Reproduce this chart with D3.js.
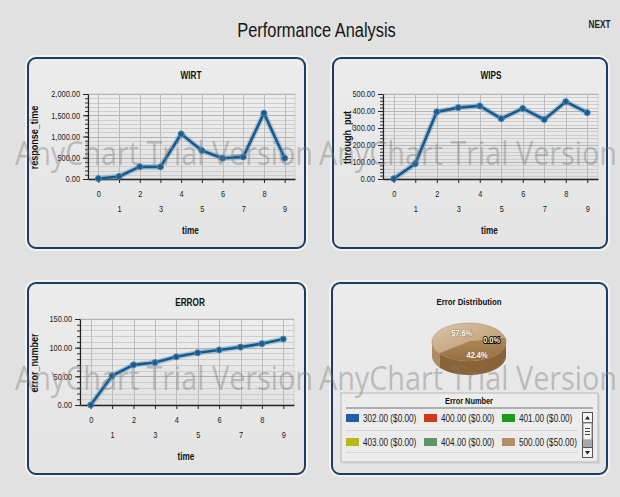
<!DOCTYPE html>
<html>
<head>
<meta charset="utf-8">
<script src="https://cdn.jsdelivr.net/npm/d3@7"></script>
<style>
html,body{margin:0;padding:0;background:#e1e1e1;}
svg{display:block;}
</style>
</head>
<body>
<svg id="chart" width="620" height="497"></svg>
<script>
// ---------------- DATA ----------------
const pageTitle = "Performance Analysis";
const navLabel = "NEXT";
const timeLabels = ["0","1","2","3","4","5","6","7","8","9"];
const wirtValues = [10, 60, 290, 285, 1060, 670, 490, 520, 1550, 490];
const wipsValues = [2, 90, 395, 420, 430, 355, 415, 350, 455, 390];
const errorValues = [0, 51, 70, 74, 84, 91, 96, 101, 107, 115];
const wirtTicks = [0, 500, 1000, 1500, 2000];
const wipsTicks = [0, 100, 200, 300, 400, 500];
const errorTicks = [0, 50, 100, 150];
const pieTitle = "Error Distribution";
const pieShareLabels = ["57.6%", "0.0%", "42.4%"];
const pieShares = [57.6, 0.0, 42.4];
const legendTitle = "Error Number";
const errorCodes = ["302.00", "400.00", "401.00", "403.00", "404.00", "500.00"];
const errorAmounts = ["$0.00", "$0.00", "$0.00", "$0.00", "$0.00", "$50.00"];
const errorColors = ["#1f5fa6", "#d0391a", "#1c9a1c", "#b8b81a", "#5e9564", "#b38e67"];
const watermark = "AnyChart Trial Version";

// ---------------- SETUP ----------------
const svg = d3.select("#chart");
const NARROW = "'Liberation Sans',Arial,sans-serif";
const defs = svg.append("defs");

svg.append("rect").attr("width", 620).attr("height", 497).attr("fill", "#e1e1e1");

const pg = defs.append("linearGradient").attr("id", "panelGrad").attr("x1", 0).attr("y1", 0).attr("x2", 0).attr("y2", 1);
pg.append("stop").attr("offset", "0%").attr("stop-color", "#ececec");
pg.append("stop").attr("offset", "100%").attr("stop-color", "#e4e4e4");

const plg = defs.append("linearGradient").attr("id", "plotGrad").attr("x1", 0).attr("y1", 0).attr("x2", 0).attr("y2", 1);
plg.append("stop").attr("offset", "0%").attr("stop-color", "#eeeeee");
plg.append("stop").attr("offset", "100%").attr("stop-color", "#e2e2e2");

// title
svg.append("text").attr("x", 316.5).attr("y", 37).attr("text-anchor", "middle")
  .attr("font-family", NARROW).attr("font-size", 20).attr("fill", "#151515")
  .attr("class", "narrow").text(pageTitle);
svg.append("text").attr("x", 599.5).attr("y", 28).attr("text-anchor", "middle")
  .attr("font-family", NARROW).attr("font-size", 10).attr("font-weight", "bold").attr("fill", "#222")
  .attr("class", "narrow").text(navLabel);

// panels
const panels = [
  {x: 28, y: 58, w: 277, h: 190},
  {x: 333, y: 58, w: 274, h: 190},
  {x: 28, y: 283, w: 277, h: 191},
  {x: 332, y: 283, w: 275, h: 191}
];
svg.selectAll("rect.panelShadow").data(panels).enter().append("rect")
  .attr("x", d => d.x - 2).attr("y", d => d.y - 2).attr("width", d => d.w + 4).attr("height", d => d.h + 4)
  .attr("rx", 10).attr("fill", "none").attr("stroke", "#f2f2f2").attr("stroke-width", 2);
svg.selectAll("rect.panel").data(panels).enter().append("rect")
  .attr("x", d => d.x).attr("y", d => d.y).attr("width", d => d.w).attr("height", d => d.h)
  .attr("rx", 8).attr("fill", "url(#panelGrad)").attr("stroke", "#1d3c60").attr("stroke-width", 2);

// ---------------- WATERMARK (behind marks, above panels) ----------------
const wm = svg.append("g").attr("pointer-events", "none");

// ---------------- LINE CHARTS ----------------
function lineChart(cfg) {
  const g = svg.append("g");
  const x = d3.scalePoint().domain(timeLabels).range([cfg.x0, cfg.x1]).padding(0.5);
  const y = d3.scaleLinear().domain([0, d3.max(cfg.ticks)]).range([cfg.y1, cfg.y0]);

  g.append("text").attr("x", cfg.titleX).attr("y", cfg.titleY).attr("text-anchor", "middle")
    .attr("font-family", NARROW).attr("font-size", 10).attr("font-weight", "bold").attr("fill", "#111")
    .attr("class", "narrow").text(cfg.title);

  g.append("rect").attr("x", cfg.x0).attr("y", cfg.y0).attr("width", cfg.x1 - cfg.x0).attr("height", cfg.y1 - cfg.y0)
    .attr("fill", "url(#plotGrad)").attr("stroke", "#d0d0d0").attr("stroke-width", 1);

  const minor = d3.range(0, d3.max(cfg.ticks) + 1e-9, cfg.minorStep);
  g.selectAll("line.hm").data(minor).enter().append("line")
    .attr("x1", cfg.x0).attr("x2", cfg.x1).attr("y1", d => Math.round(y(d)) + 0.5).attr("y2", d => Math.round(y(d)) + 0.5)
    .attr("stroke", "#cdcdcd").attr("stroke-width", 1);
  g.selectAll("line.hM").data(cfg.ticks).enter().append("line")
    .attr("x1", cfg.x0).attr("x2", cfg.x1).attr("y1", d => Math.round(y(d)) + 0.5).attr("y2", d => Math.round(y(d)) + 0.5)
    .attr("stroke", "#b3b3b3").attr("stroke-width", 1);
  g.selectAll("line.v").data(timeLabels).enter().append("line")
    .attr("x1", d => Math.round(x(d)) + 0.5).attr("x2", d => Math.round(x(d)) + 0.5).attr("y1", cfg.y0).attr("y2", cfg.y1)
    .attr("stroke", "#bcbcbc").attr("stroke-width", 1);

  const yMinor = g.append("g").attr("transform", `translate(${cfg.x0},0)`)
    .call(d3.axisLeft(y).tickValues(minor).tickSize(3).tickFormat(""));
  yMinor.select(".domain").remove();
  yMinor.selectAll("line").attr("stroke", "#333");
  const yAx = g.append("g").attr("transform", `translate(${cfg.x0},0)`)
    .call(d3.axisLeft(y).tickValues(cfg.ticks).tickSize(5).tickSizeOuter(0).tickPadding(3).tickFormat(d3.format(",.2f")));
  yAx.select(".domain").attr("stroke", "#222").attr("stroke-width", 1.2);
  yAx.selectAll("line").attr("stroke", "#222");
  yAx.selectAll("text").attr("font-family", NARROW).attr("font-size", 9).attr("fill", "#222").attr("class", "narrow");

  const xAx = g.append("g").attr("transform", `translate(0,${cfg.y1})`)
    .call(d3.axisBottom(x).tickSize(4).tickSizeOuter(0));
  xAx.select(".domain").attr("stroke", "#222").attr("stroke-width", 1.5);
  xAx.selectAll("line").attr("stroke", "#222");
  xAx.selectAll("text").attr("font-family", NARROW).attr("font-size", 9).attr("fill", "#222").attr("class", "narrow")
    .attr("y", (d, i) => i % 2 ? 30 : 15).attr("dy", "0.35em");

  g.append("text").attr("x", (cfg.x0 + cfg.x1) / 2 - 1).attr("y", cfg.y1 + 55).attr("text-anchor", "middle")
    .attr("font-family", NARROW).attr("font-size", 10).attr("font-weight", "bold").attr("fill", "#111")
    .attr("class", "narrow").text("time");
  g.append("text").attr("transform", `translate(${cfg.ytX},${(cfg.y0 + cfg.y1) / 2 + 1}) rotate(-90)`)
    .attr("text-anchor", "middle").attr("dy", "0.35em")
    .attr("font-family", NARROW).attr("font-size", 11).attr("font-weight", "bold").attr("fill", "#111")
    .attr("class", "narrow").text(cfg.yTitle);

  const line = d3.line().x((d, i) => x(timeLabels[i])).y(d => y(d));
  g.append("path").datum(cfg.values).attr("d", line).attr("fill", "none")
    .attr("stroke", "#5f97c2").attr("stroke-opacity", 0.45).attr("stroke-width", 5.5).attr("stroke-linejoin", "round");
  g.append("path").datum(cfg.values).attr("d", line).attr("fill", "none")
    .attr("stroke", "#185a8a").attr("stroke-width", 2.6).attr("stroke-linejoin", "round");
  g.selectAll("circle").data(cfg.values).enter().append("circle")
    .attr("cx", (d, i) => x(timeLabels[i])).attr("cy", d => y(d)).attr("r", 3)
    .attr("fill", "#1a5d8c").attr("stroke", "#4d86b3").attr("stroke-width", 1);
}

lineChart({title: "WIRT", titleX: 191, titleY: 79, x0: 88, x1: 295, y0: 94, y1: 179,
  ticks: wirtTicks, minorStep: 100, values: wirtValues, yTitle: "response_time", ytX: 34});
lineChart({title: "WIPS", titleX: 491, titleY: 79, x0: 383, x1: 598, y0: 94, y1: 179,
  ticks: wipsTicks, minorStep: 20, values: wipsValues, yTitle: "through_put", ytX: 347});
lineChart({title: "ERROR", titleX: 190, titleY: 306, x0: 80, x1: 294, y0: 319, y1: 405,
  ticks: errorTicks, minorStep: 10, values: errorValues, yTitle: "error_number", ytX: 34});

// ---------------- 3D PIE ----------------
const pieG = svg.append("g");
pieG.append("text").attr("x", 469).attr("y", 305).attr("text-anchor", "middle")
  .attr("font-family", NARROW).attr("font-size", 9.5).attr("font-weight", "bold").attr("fill", "#111")
  .attr("class", "narrow").text(pieTitle);

const cx = 469, cy = 342, rx = 37, ry = 19, depth = 14;
const startA = 233 * Math.PI / 180;
const pieLayout = d3.pie().sort(null).startAngle(startA).endAngle(startA + 2 * Math.PI);
const arcs = pieLayout(pieShares);
const topColors = ["url(#pieLight)", "#b08760", "url(#pieDark)"];
const sideColors = ["#b08a62", "#8b6339", "#8b6339"];

const pl = defs.append("linearGradient").attr("id", "pieLight").attr("x1", 0).attr("y1", 0).attr("x2", 1).attr("y2", 1);
pl.append("stop").attr("offset", "0%").attr("stop-color", "#dcc6aa");
pl.append("stop").attr("offset", "100%").attr("stop-color", "#b8946b");
const pd = defs.append("linearGradient").attr("id", "pieDark").attr("x1", 0).attr("y1", 0).attr("x2", 0).attr("y2", 1);
pd.append("stop").attr("offset", "0%").attr("stop-color", "#ad8659");
pd.append("stop").attr("offset", "100%").attr("stop-color", "#98703f");

const px = a => cx + rx * Math.sin(a);
const py = a => cy - ry * Math.cos(a);
function topPath(a0, a1) {
  const n = Math.max(2, Math.ceil((a1 - a0) / 0.05));
  let p = `M${cx},${cy}`;
  for (let i = 0; i <= n; i++) { const a = a0 + (a1 - a0) * i / n; p += `L${px(a)},${py(a)}`; }
  return p + "Z";
}
function sidePath(a0, a1) {
  const segs = [];
  for (let k = -1; k <= 2; k++) {
    const lo = Math.max(a0, Math.PI / 2 + 2 * Math.PI * k), hi = Math.min(a1, 3 * Math.PI / 2 + 2 * Math.PI * k);
    if (hi > lo) segs.push([lo, hi]);
  }
  return segs.map(([lo, hi]) => {
    const n = Math.max(2, Math.ceil((hi - lo) / 0.05));
    let p = "", q = "";
    for (let i = 0; i <= n; i++) { const a = lo + (hi - lo) * i / n; p += (i ? "L" : "M") + px(a) + "," + py(a); }
    for (let i = n; i >= 0; i--) { const a = lo + (hi - lo) * i / n; q += "L" + px(a) + "," + (py(a) + depth); }
    return p + q + "Z";
  }).join("");
}
pieG.selectAll("path.side").data(arcs).enter().append("path")
  .attr("d", d => sidePath(d.startAngle, d.endAngle)).attr("fill", (d, i) => sideColors[i]);
pieG.selectAll("path.top").data(arcs).enter().append("path")
  .attr("d", d => topPath(d.startAngle, d.endAngle)).attr("fill", (d, i) => topColors[i])
  .attr("stroke", "#9a7650").attr("stroke-width", 0.4);
const labelR = [0.5, 0.62, 0.55];
pieG.selectAll("text.pl").data(arcs).enter().append("text")
  .attr("x", (d, i) => cx + rx * labelR[i] * Math.sin((d.startAngle + d.endAngle) / 2))
  .attr("y", (d, i) => cy - ry * labelR[i] * Math.cos((d.startAngle + d.endAngle) / 2) + (i === 2 ? 3 : 0))
  .attr("dy", "0.35em").attr("text-anchor", "middle")
  .attr("font-family", NARROW).attr("font-size", 9).attr("font-weight", "bold")
  .attr("fill", "#fff").attr("stroke", (d, i) => i === 1 ? "#000" : "#7a5a3a").attr("stroke-width", (d, i) => i === 1 ? 2 : 0.6)
  .attr("paint-order", "stroke").attr("class", "narrow")
  .text((d, i) => pieShareLabels[i]);

// ---------------- LEGEND ----------------
const lg = svg.append("g");
lg.append("rect").attr("x", 343).attr("y", 395).attr("width", 257).attr("height", 69).attr("fill", "#cfcfcf").attr("opacity", 0.6);
lg.append("rect").attr("x", 341).attr("y", 393).attr("width", 257).attr("height", 69)
  .attr("fill", "#ececec").attr("stroke", "#b8b8b8").attr("stroke-width", 1);
lg.append("text").attr("x", 469).attr("y", 404).attr("text-anchor", "middle")
  .attr("font-family", NARROW).attr("font-size", 9).attr("font-weight", "bold").attr("fill", "#111")
  .attr("class", "narrow").text(legendTitle);
lg.append("line").attr("x1", 346).attr("x2", 593).attr("y1", 408).attr("y2", 408).attr("stroke", "#9a9a9a").attr("stroke-width", 1.5);
[430, 452].forEach(yy => lg.append("line").attr("x1", 346).attr("x2", 578).attr("y1", yy + 0.5).attr("y2", yy + 0.5)
  .attr("stroke", "#d6d6d6").attr("stroke-width", 1));
const colX = [346, 424, 502], rowY = [418, 442];
const items = lg.selectAll("g.item").data(errorCodes).enter().append("g")
  .attr("transform", (d, i) => `translate(${colX[i % 3]},${rowY[Math.floor(i / 3)]})`);
items.append("rect").attr("x", 0).attr("y", -4).attr("width", 13).attr("height", 8)
  .attr("fill", (d, i) => errorColors[i]);
items.append("text").attr("x", 17).attr("y", 0).attr("dy", "0.35em")
  .attr("font-family", NARROW).attr("font-size", 10).attr("fill", "#222").attr("class", "narrow")
  .text((d, i) => `${d} (${errorAmounts[i]})`);

const sb = lg.append("g");
sb.append("rect").attr("x", 582.5).attr("y", 412.5).attr("width", 10).attr("height", 45).attr("fill", "#efefef").attr("stroke", "#555");
sb.append("rect").attr("x", 582.5).attr("y", 412.5).attr("width", 10).attr("height", 10).attr("fill", "#f4f4f4").attr("stroke", "#555");
sb.append("rect").attr("x", 582.5).attr("y", 447.5).attr("width", 10).attr("height", 10).attr("fill", "#f4f4f4").attr("stroke", "#555");
sb.append("rect").attr("x", 583).attr("y", 423).attr("width", 9).attr("height", 17).attr("fill", "#f6f6f6").attr("stroke", "#888");
sb.append("rect").attr("x", 583).attr("y", 440).attr("width", 9).attr("height", 7).attr("fill", "#a8a8a8");
[428.5, 431.5, 434.5].forEach(yy => sb.append("line").attr("x1", 585).attr("x2", 590).attr("y1", yy).attr("y2", yy).attr("stroke", "#444"));
sb.append("path").attr("d", "M585,419.5L587.5,416L590,419.5Z").attr("fill", "#222");
sb.append("path").attr("d", "M585,451L587.5,454.5L590,451Z").attr("fill", "#222");

// watermark text (drawn on top like the trial overlay)
const wmTop = svg.append("g").attr("pointer-events", "none");
[[15, 165], [319, 165], [15, 390], [319, 390]].forEach(([wx, wy]) => {
  wmTop.append("text").attr("x", wx).attr("y", wy)
    .attr("font-family", "'Open Sans','DejaVu Sans',sans-serif").attr("font-size", 33)
    .attr("textLength", 298).attr("lengthAdjust", "spacingAndGlyphs")
    .attr("fill", "#7a7a7a").attr("fill-opacity", 0.42).text(watermark);
});

// emulate a narrow face: compress Arial-metric text horizontally
svg.selectAll("text.narrow").each(function () {
  const w = this.getComputedTextLength();
  this.setAttribute("textLength", (w * 0.82).toFixed(2));
  this.setAttribute("lengthAdjust", "spacingAndGlyphs");
});
</script>
</body>
</html>
